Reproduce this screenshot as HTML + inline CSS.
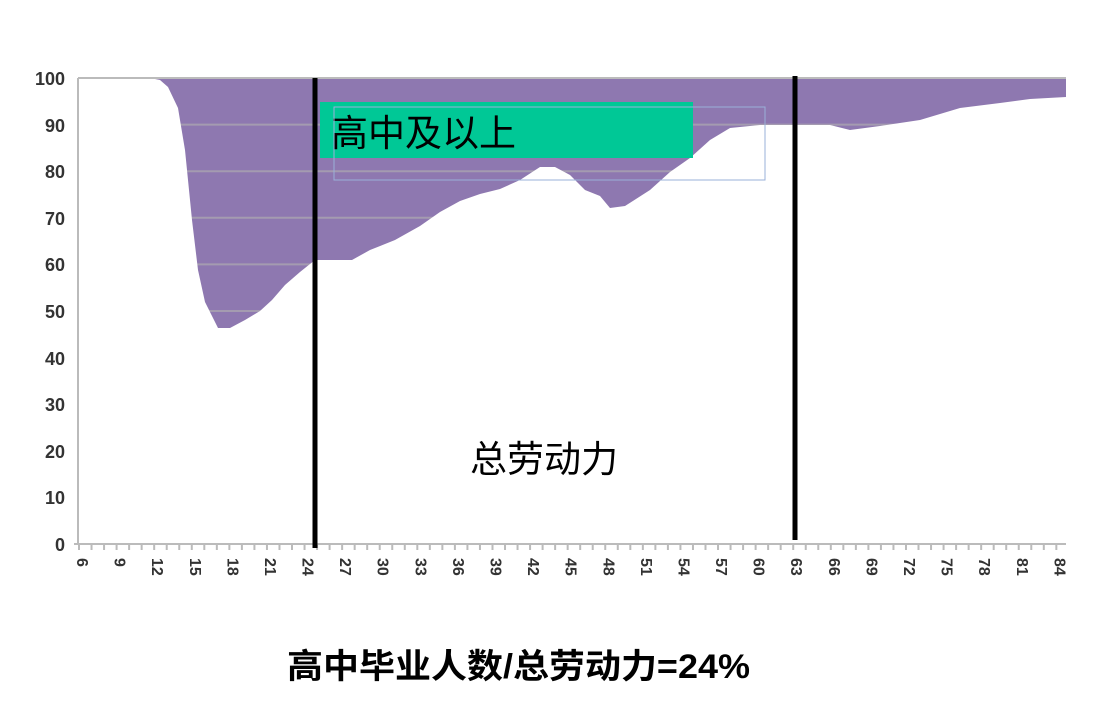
<!DOCTYPE html>
<html><head><meta charset="utf-8"><style>
body{margin:0;background:#fff;width:1102px;height:720px;overflow:hidden}
svg text{font-family:"Liberation Sans","Noto Sans CJK SC",sans-serif}
</style></head><body>
<svg width="1102" height="720" viewBox="0 0 1102 720">
<rect x="78" y="78" width="988" height="466" fill="#8e78b0"/>
<g stroke="#a49bb0" stroke-width="2">
<line x1="78" x2="1066" y1="124.6" y2="124.6"/><line x1="78" x2="1066" y1="171.2" y2="171.2"/>
<line x1="78" x2="1066" y1="217.8" y2="217.8"/><line x1="78" x2="1066" y1="264.4" y2="264.4"/>
<line x1="78" x2="1066" y1="311" y2="311"/>
</g>
<polygon fill="#fff" points="78,78 150,78 160,80 168,87 178,108 185,150 192,220 198,270 205,302 218,328 230,328 245,320 260,311 272,300 285,285 300,272 315,260 352,260 370,250 395,240 420,226 440,212 460,201 480,194 500,189 520,180 540,167 555,167 570,175 585,190 600,196 610,208 625,206 650,190 670,172 690,158 710,140 730,128 760,125 830,125 850,130 880,126 920,120 960,108 1000,103 1030,99 1066,97 1066,544 78,544"/>
<line x1="78" y1="78" x2="1066" y2="78" stroke="#bbb" stroke-width="2"/>
<line x1="78" y1="78" x2="78" y2="544" stroke="#bbb" stroke-width="2"/>
<line x1="74" y1="544" x2="1066" y2="544" stroke="#bbb" stroke-width="2"/>
<g fill="#333" font-size="18" font-weight="bold" text-anchor="end">
<text x="65" y="85">100</text><text x="65" y="132">90</text><text x="65" y="178">80</text>
<text x="65" y="225">70</text><text x="65" y="271">60</text><text x="65" y="318">50</text>
<text x="65" y="365">40</text><text x="65" y="411">30</text><text x="65" y="458">20</text>
<text x="65" y="504">10</text><text x="65" y="551">0</text>
</g>
<g id="ticks" stroke="#bbb" stroke-width="2"></g>
<g id="xl" fill="#333" font-size="16" font-weight="bold"></g>
<rect x="320" y="102" width="373" height="56" fill="#00c896"/>
<text x="331" y="146" font-size="37" fill="#000">高中及以上</text>
<rect x="334" y="107" width="431" height="73" fill="none" stroke="#9ab0d8" stroke-width="1"/>
<line x1="315" y1="78" x2="315" y2="548" stroke="#000" stroke-width="5"/>
<line x1="795" y1="76" x2="795" y2="540" stroke="#000" stroke-width="5"/>
<text x="470" y="472" font-size="37" fill="#000">总劳动力</text>
<text x="287" y="678" font-size="34" font-weight="bold" textLength="463" lengthAdjust="spacingAndGlyphs" fill="#000">高中毕业人数/总劳动力=24%</text>
</svg>
<script>
var t=document.getElementById('ticks'),xl=document.getElementById('xl'),ns='http://www.w3.org/2000/svg';
for(var a=6;a<=84;a++){var x=79+(a-6)*12.53;var l=document.createElementNS(ns,'line');l.setAttribute('x1',x);l.setAttribute('x2',x);l.setAttribute('y1',544);l.setAttribute('y2',550);t.appendChild(l);
if((a-6)%3==0){var s=document.createElementNS(ns,'text');s.setAttribute('transform','translate('+(x-2)+',558) rotate(90)');s.textContent=a;xl.appendChild(s);}}
</script>
</body></html>
